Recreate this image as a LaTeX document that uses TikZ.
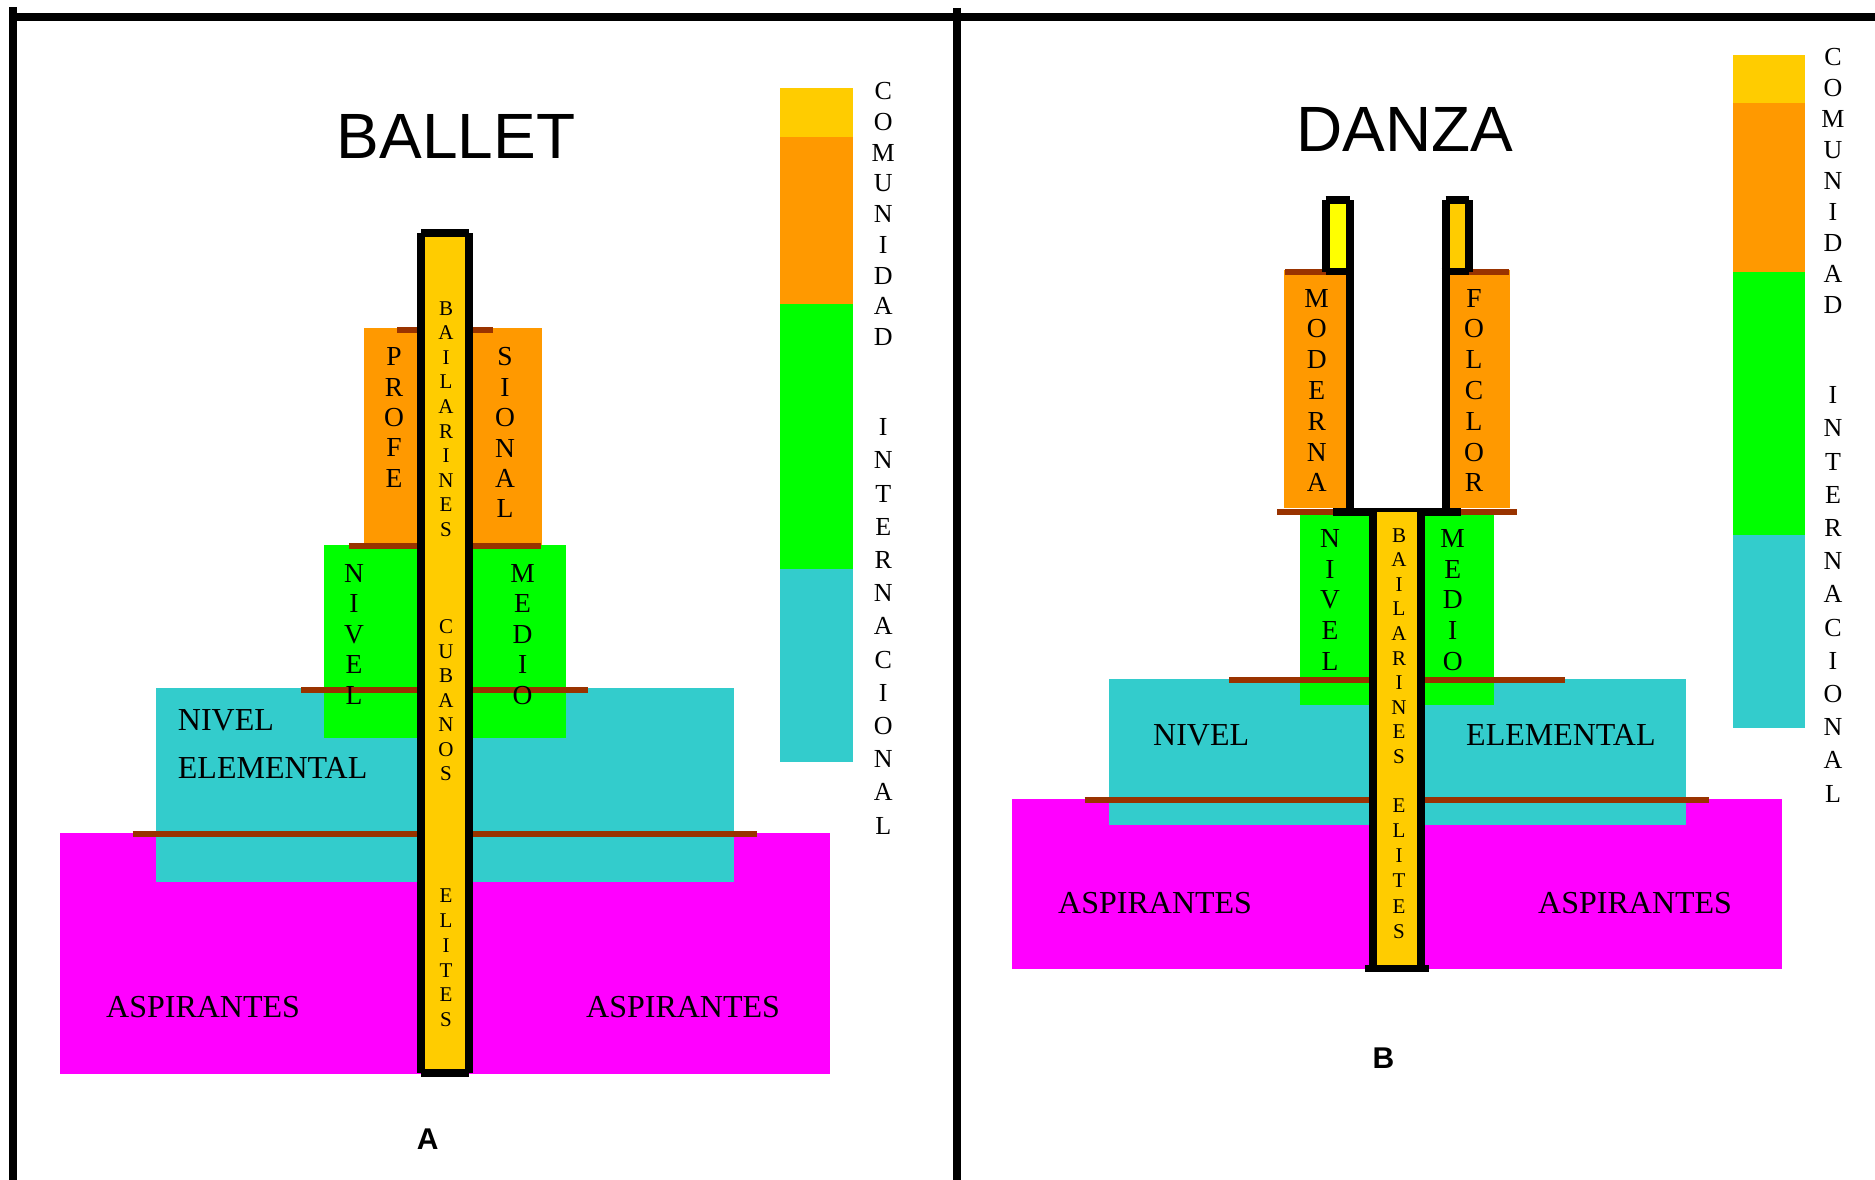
\documentclass[tikz,border=0pt]{standalone}
\usepackage{fontspec}
\setmainfont{Liberation Serif}
\newfontfamily\headfont{Liberation Sans}

\definecolor{aspcol}{HTML}{FF00FF}
\definecolor{elemcol}{HTML}{33CCCC}
\definecolor{mediocol}{HTML}{00FF00}
\definecolor{profcol}{HTML}{FF9900}
\definecolor{elitecol}{HTML}{FFCC00}
\definecolor{tubecol}{HTML}{FFFF00}
\definecolor{rulecol}{HTML}{993300}

% stack of single letters: name, style, x, baseline of first letter, step, letters
\newcommand\letterstack[6]{%
  \foreach \ch [count=\k from 0] in {#6}
    \node[#2] (#1-\k) at (#3,{#4+\k*#5}) {\ch};}

\begin{document}
\begin{tikzpicture}[x=1pt,y=-1pt,line cap=butt,
  frameline/.style={line width=8pt},
  levelrule/.style={draw=rulecol,line width=6pt},
  tubeline/.style={line width=8pt},
  blockletter/.style={anchor=base,inner sep=0pt,font=\fontsize{27.5}{30}\selectfont},
  pillarletter/.style={anchor=base,inner sep=0pt,font=\fontsize{21}{24}\selectfont},
  legendletter/.style={anchor=base,inner sep=0pt,font=\fontsize{26}{28}\selectfont},
  levellabel/.style={anchor=base west,inner sep=0pt,font=\fontsize{32}{36}\selectfont},
  headline/.style={anchor=base,inner sep=0pt,font=\headfont\fontsize{64}{70}\selectfont},
  panelmark/.style={anchor=base,inner sep=0pt,font=\headfont\bfseries\fontsize{30}{34}\selectfont}]

\useasboundingbox (0,0) rectangle (1875,1180);
\fill[white] (0,0) rectangle (1875,1180);

% ---------- frame ----------
\draw[frameline] (12.5,17) -- (1875,17);
\draw[frameline] (12.5,7.3) -- (12.5,1180);
\draw[frameline] (957,8) -- (957,1180);

% ================= panel A : ballet =================
\node[headline] (titleA) at (456,159) {BALLET};

% level blocks
\fill[aspcol]   (60,833) rectangle (830,1074);
\fill[elemcol]  (156,688) rectangle (734,882);
\fill[mediocol] (324,545) rectangle (421,738);
\fill[mediocol] (469,545) rectangle (566,738);
\fill[profcol]  (364,328) rectangle (421,545);
\fill[profcol]  (469,328) rectangle (542,545);

% level boundaries
\draw[levelrule] (397,329.7) -- (421,329.7);
\draw[levelrule] (469,329.7) -- (493,329.7);
\draw[levelrule] (349,545.5) -- (421,545.5);
\draw[levelrule] (469,545.5) -- (541,545.5);
\draw[levelrule] (301,689.7) -- (421,689.7);
\draw[levelrule] (469,689.7) -- (588,689.7);
\draw[levelrule] (132.7,833.7) -- (421,833.7);
\draw[levelrule] (469,833.7) -- (757,833.7);

% central pillar
\fill[elitecol] (421,233) rectangle (469,1073);
\draw[tubeline] (421,233) -- (421,1073);
\draw[tubeline] (469,233) -- (469,1073);
\draw[tubeline] (421,233) -- (469,233);
\draw[tubeline] (421,1073) -- (469,1073);

% labels
\letterstack{profeA}{blockletter}{394}{365.8}{30.3}{P,R,O,F,E}
\letterstack{sionalA}{blockletter}{505}{365.8}{30.4}{S,I,O,N,A,L}
\letterstack{nivelA}{blockletter}{354}{582}{30.5}{N,I,V,E,L}
\letterstack{medioA}{blockletter}{522.6}{582}{30.5}{M,E,D,I,O}
\letterstack{bailA}{pillarletter}{446}{315}{24.6}{B,A,I,L,A,R,I,N,E,S}
\letterstack{cubA}{pillarletter}{446}{633.6}{24.5}{C,U,B,A,N,O,S}
\letterstack{eliA}{pillarletter}{446}{902.6}{24.8}{E,L,I,T,E,S}

\node[levellabel] (nivA) at (177.7,730) {NIVEL};
\node[levellabel] (elemA) at (177.7,778.3) {ELEMENTAL};
\node[levellabel] (aspAl) at (106,1017) {ASPIRANTES};
\node[levellabel] (aspAr) at (586,1017) {ASPIRANTES};

% legend bar
\fill[elitecol] (780,88) rectangle (853,136.7);
\fill[profcol]  (780,136.7) rectangle (853,303.5);
\fill[mediocol] (780,303.5) rectangle (853,568.5);
\fill[elemcol]  (780,568.5) rectangle (853,762);
\letterstack{comA}{legendletter}{883.3}{99.8}{30.7}{C,O,M,U,N,I,D,A,D}
\letterstack{intA}{legendletter}{883.3}{435.6}{33.2}{I,N,T,E,R,N,A,C,I,O,N,A,L}

\node[panelmark] (markA) at (427.7,1149) {A};

% ================= panel B : danza =================
\node[headline] (titleB) at (1405,152) {DANZA};

% level blocks
\fill[aspcol]   (1011.6,799) rectangle (1781.7,969);
\fill[elemcol]  (1108.5,679) rectangle (1686,825);
\fill[mediocol] (1300,512) rectangle (1373,705);
\fill[mediocol] (1421,512) rectangle (1494,705);
\fill[profcol]  (1284,270) rectangle (1349.5,508);
\fill[profcol]  (1445.5,270) rectangle (1510,508);

% level boundaries
\draw[levelrule] (1285,272) -- (1326,272);
\draw[levelrule] (1469,272) -- (1509.3,272);
\draw[levelrule] (1277,512) -- (1333,512);
\draw[levelrule] (1461,512) -- (1517,512);
\draw[levelrule] (1229,680) -- (1373,680);
\draw[levelrule] (1421,680) -- (1565,680);
\draw[levelrule] (1084.6,800) -- (1373,800);
\draw[levelrule] (1421,800) -- (1709,800);

% branch tubes
\fill[tubecol]  (1325.5,200) rectangle (1349.5,271.5);
\fill[elitecol] (1445.5,200) rectangle (1469,271.5);
\draw[tubeline] (1325.5,200) -- (1325.5,271.5);
\draw[tubeline] (1325.5,200) -- (1349.5,200);
\draw[tubeline] (1469,200) -- (1469,271.5);
\draw[tubeline] (1445.5,200) -- (1469,200);
\draw[line width=7pt] (1325.5,271.5) -- (1353,271.5);
\draw[line width=7pt] (1441.5,271.5) -- (1469,271.5);

% fork: two branches joined above the trunk
\draw[tubeline] (1349.5,200) -- (1349.5,512);
\draw[tubeline] (1445.5,200) -- (1445.5,512);
\draw[tubeline] (1333,512) -- (1461,512);

% trunk pillar
\fill[elitecol] (1373,512) rectangle (1421,968);
\draw[tubeline] (1373,512) -- (1373,968);
\draw[tubeline] (1421,512) -- (1421,968);
\draw[line width=7pt] (1365,968) -- (1429,968);

% labels
\letterstack{modB}{blockletter}{1316.7}{307.1}{30.8}{M,O,D,E,R,N,A}
\letterstack{folB}{blockletter}{1474}{307.1}{30.8}{F,O,L,C,L,O,R}
\letterstack{nivelB}{blockletter}{1330}{547.1}{30.9}{N,I,V,E,L}
\letterstack{medioB}{blockletter}{1452.7}{547.1}{30.9}{M,E,D,I,O}
\letterstack{bailB}{pillarletter}{1399}{542}{24.6}{B,A,I,L,A,R,I,N,E,S}
\letterstack{eliB}{pillarletter}{1399}{812}{25.3}{E,L,I,T,E,S}

\node[levellabel] (nivB) at (1153,745) {NIVEL};
\node[levellabel] (elemB) at (1466,745) {ELEMENTAL};
\node[levellabel] (aspBl) at (1058,913) {ASPIRANTES};
\node[levellabel] (aspBr) at (1538,913) {ASPIRANTES};

% legend bar
\fill[elitecol] (1733,55) rectangle (1804.5,103);
\fill[profcol]  (1733,103) rectangle (1804.5,271.5);
\fill[mediocol] (1733,271.5) rectangle (1804.5,534.5);
\fill[elemcol]  (1733,534.5) rectangle (1804.5,728);
\letterstack{comB}{legendletter}{1833}{65.8}{30.9}{C,O,M,U,N,I,D,A,D}
\letterstack{intB}{legendletter}{1833}{403.6}{33.2}{I,N,T,E,R,N,A,C,I,O,N,A,L}

\node[panelmark] (markB) at (1383.5,1068) {B};

\end{tikzpicture}
\end{document}
